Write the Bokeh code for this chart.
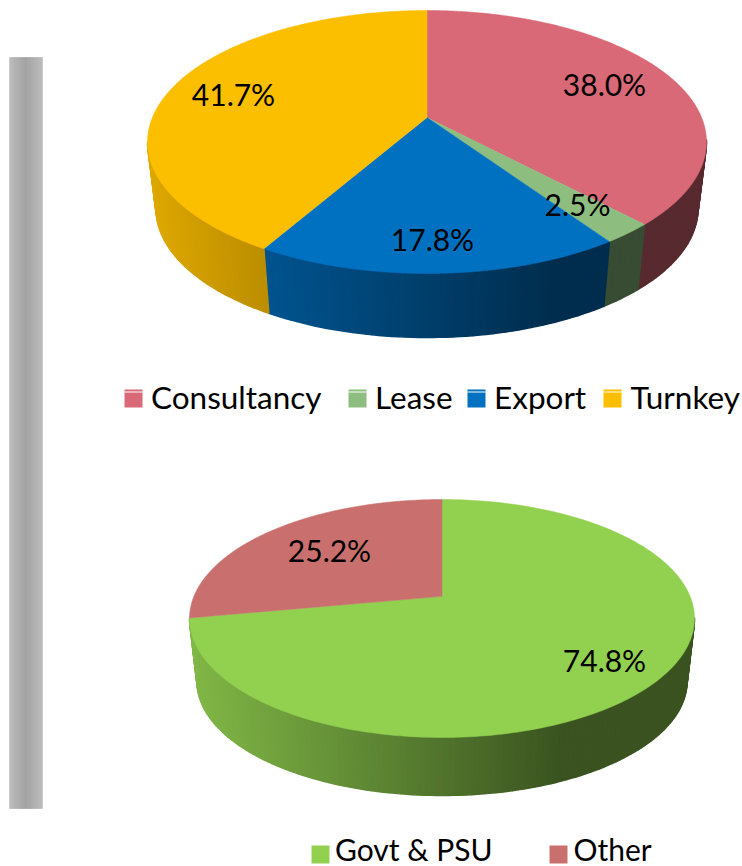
import numpy as np
from bokeh.plotting import figure
from bokeh.models import Range1d, ColumnDataSource
from bokeh.core.properties import value
from bokeh.embed import file_html
from bokeh.resources import INLINE

# --- chart values ---
top_names = ["Consultancy", "Lease", "Export", "Turnkey"]
top_shares = [38.0, 2.5, 17.8, 41.7]
top_labels = ["38.0%", "2.5%", "17.8%", "41.7%"]
top_colors = ["#D96976", "#8DBE80", "#0070C0", "#FCBF00"]

bottom_names = ["Govt & PSU", "Other"]
# labels printed on the reference; the drawn wedge sizes differ slightly from them
bottom_shares = [72.1, 27.9]
bottom_labels = ["74.8%", "25.2%"]
bottom_colors = ["#92D050", "#C9706E"]

FONT = "Lato"
PERSP = 0.186


def rgb(hexs, f):
    h = hexs.lstrip("#")
    c = [int(h[i:i + 2], 16) for i in (0, 2, 4)]
    return "#%02x%02x%02x" % tuple(int(round(v * f)) for v in c)


def project(theta, cx, cy, rx, ry):
    X, Y = np.sin(theta), np.cos(theta)
    d = 1 + PERSP * Y
    return cx + rx * X * np.sqrt(1 - PERSP ** 2) / d, cy - ry * (Y + PERSP) / d


def draw_pie(p, shares, colors, top, bot):
    cx, cy, rx, ry = top
    rxb, cyb, ryb = bot
    edges = np.cumsum([0] + list(shares)) / sum(shares) * 2 * np.pi
    sx, sy, sc = [], [], []
    for a, b, col in zip(edges[:-1], edges[1:], colors):
        th = np.linspace(a, b, max(3, int((b - a) * 50)))
        tx, ty = project(th, cx, cy, rx, ry)
        bx, by = project(th, cx, cyb, rxb, ryb)
        for i in range(len(th) - 1):
            if ty[i] < cy and ty[i + 1] < cy:
                continue
            t = (0.5 * (tx[i] + tx[i + 1]) - (cx - rx)) / (2 * rx)
            f = max(0.40, 0.88 - 0.65 * t)
            sx.append([tx[i], tx[i + 1], bx[i + 1], bx[i]])
            sy.append([ty[i], ty[i + 1], by[i + 1], by[i]])
            sc.append(rgb(col, f))
    p.patches("x", "y", source=ColumnDataSource(dict(x=sx, y=sy, c=sc)),
              fill_color="c", line_color="c", line_width=1.5)
    wx, wy, wc = [], [], []
    ay = cy - ry * PERSP
    for a, b, col in zip(edges[:-1], edges[1:], colors):
        th = np.linspace(a, b, 240)
        tx, ty = project(th, cx, cy, rx, ry)
        wx.append(np.concatenate([[cx], tx]).tolist())
        wy.append(np.concatenate([[ay], ty]).tolist())
        wc.append(col)
    p.patches("x", "y", source=ColumnDataSource(dict(x=wx, y=wy, c=wc)),
              fill_color="c", line_color="c", line_width=0.5)


p = figure(width=742, height=866, output_backend="svg", toolbar_location=None,
           x_range=Range1d(0, 742), y_range=Range1d(866, 0),
           min_border=0, outline_line_color=None, background_fill_color="white")
p.axis.visible = False
p.grid.visible = False

# left decorative bar
bar_edges = np.linspace(9, 42, 34)
bar_t = (bar_edges[:-1] + bar_edges[1:]) / 2
bar_shade = [int(185 - 28 * (1 - abs(2 * (x - 9) / 33 - 1))) for x in bar_t]
p.quad(left=bar_edges[:-1], right=bar_edges[1:], top=57, bottom=808,
       fill_color=["#%02x%02x%02x" % (v, v, v) for v in bar_shade],
       line_color=["#%02x%02x%02x" % (v, v, v) for v in bar_shade], line_width=0.5)

draw_pie(p, top_shares, top_colors, (426.5, 141.5, 279.5, 131.5), (271, 208, 129))
draw_pie(p, bottom_shares, bottom_colors, (441.5, 618, 252.5, 119), (245, 681, 114))

# data labels
lab_x = [604, 577, 432, 233, 604, 329]
lab_y = [83, 203, 238, 93, 659, 549]
p.text(x=lab_x, y=lab_y, text=top_labels + bottom_labels, text_font=value(FONT),
       text_font_size="30px", text_color="#000000", text_align="center", text_baseline="middle")

# legends
leg_sw_x = [124, 348, 467, 603, 311, 549]
leg_sw_y = [389, 389, 389, 389, 845, 845]
leg_cols = top_colors + bottom_colors
p.quad(left=leg_sw_x, right=[x + 18 for x in leg_sw_x], top=leg_sw_y,
       bottom=[y + 18 for y in leg_sw_y], fill_color=leg_cols, line_color=None)
p.segment(x0=leg_sw_x[:4], x1=[x + 18 for x in leg_sw_x[:4]], y0=391.5, y1=391.5,
          line_color="white", line_width=1)
p.text(x=[150.5, 374.5, 493.5, 630], y=396, text=top_names, text_font=value(FONT),
       text_font_size="31.5px", text_color="#000000", text_align="left", text_baseline="middle")
p.text(x=[334.5, 573], y=848.5, text=bottom_names, text_font=value(FONT),
       text_font_size="30px", text_color="#000000", text_align="left", text_baseline="middle")

open("out.html", "w").write(file_html(p, INLINE))
